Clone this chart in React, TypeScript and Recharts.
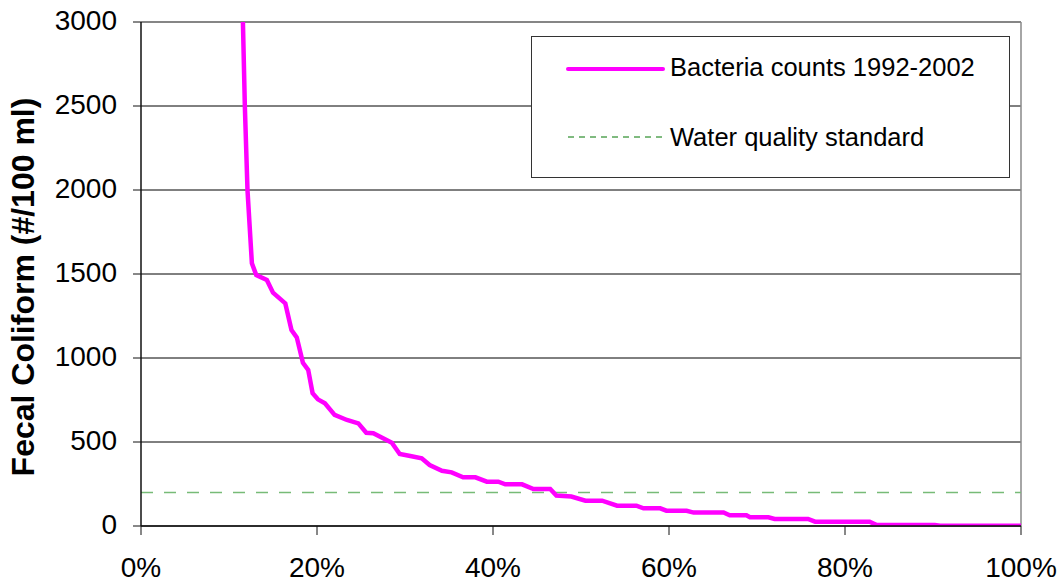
import React from 'react';
import {
  LineChart,
  Line,
  XAxis,
  YAxis,
  CartesianGrid,
  ReferenceLine,
  Label,
} from 'recharts';

// Exceedance percentile (%) of each sorted sample
const percentiles: number[] = [
  11.45, 11.8, 12.1, 12.6, 13.1, 14.3, 15.0, 16.4, 17.1, 17.7, 18.4, 19.0, 19.5,
  20.1, 20.9, 22.0, 23.4, 24.7, 25.6, 26.4, 27.9, 28.5, 29.4, 30.6, 31.9, 32.8,
  34.2, 35.3, 36.6, 38.0, 39.3, 40.6, 41.4, 43.3, 44.6, 46.5, 47.2, 48.9, 50.5,
  52.4, 54.1, 56.3, 57.1, 59.0, 59.7, 62.0, 62.8, 66.2, 66.9, 68.8, 69.2, 71.3,
  72.0, 75.8, 76.6, 82.8, 83.6, 90.2, 90.8, 100,
];

// Fecal coliform counts (#/100 ml)
const counts: number[] = [
  3300, 2500, 2000, 1564, 1494, 1464, 1389, 1325, 1167, 1123, 972, 929, 790,
  754, 730, 661, 631, 611, 555, 552, 512, 496, 429, 417, 403, 363,
  329, 319, 290, 290, 264, 264, 248, 248, 220, 220, 181, 175, 151,
  151, 121, 121, 105, 105, 91, 91, 80, 80, 64, 64, 52, 52,
  42, 42, 26, 26, 6, 6, 1, 1,
];

const waterQualityStandard = 200;

const xTicks: number[] = [0, 20, 40, 60, 80, 100];
const yTicks: number[] = [0, 500, 1000, 1500, 2000, 2500, 3000];

const seriesName = 'Bacteria counts 1992-2002';
const standardName = 'Water quality standard';
const yAxisTitle = 'Fecal Coliform (#/100 ml)';

const data = percentiles.map((p, i) => ({ p, v: counts[i] }));

const FONT = "Arial, 'Liberation Sans', sans-serif";

const CustomLegend = () => (
  <svg width={479} height={142} style={{ display: 'block' }}>
    <rect x={0.5} y={0.5} width={478} height={141} fill="#fff" stroke="#333" strokeWidth={1} />
    <line x1={37} y1={33} x2={132} y2={33} stroke="#ff00ff" strokeWidth={4} strokeLinecap="round" />
    <text x={139} y={31} fontSize={25.5} fontFamily={FONT} dominantBaseline="central" fill="#000">
      {seriesName}
    </text>
    <line x1={37} y1={101} x2={132} y2={101} stroke="#007700" strokeWidth={1} strokeDasharray="6 5" />
    <text x={139} y={100.5} fontSize={25.5} fontFamily={FONT} dominantBaseline="central" fill="#000">
      {standardName}
    </text>
  </svg>
);

export default function App() {
  return (
    <div style={{ position: 'absolute', left: 0, top: 0, width: 1061, height: 583, background: '#fff' }}>
      <LineChart
        width={1061}
        height={583}
        data={data}
        margin={{ top: 22, right: 40, left: 0, bottom: 0 }}
      >
        <CartesianGrid horizontal vertical={false} stroke="#000" strokeWidth={1} />
        <XAxis
          dataKey="p"
          type="number"
          domain={[0, 100]}
          ticks={xTicks}
          tickFormatter={(v: number) => `${v}%`}
          height={57}
          tickSize={9}
          tickMargin={22}
          interval={0}
          axisLine={{ stroke: '#111', strokeWidth: 1.5 }}
          tickLine={{ stroke: '#111', strokeWidth: 1 }}
          tick={{ fontSize: 28, fontFamily: FONT, fill: '#000' }}
        />
        <YAxis
          type="number"
          domain={[0, 3000]}
          ticks={yTicks}
          allowDataOverflow
          width={141}
          tickSize={8}
          tickMargin={16}
          interval={0}
          axisLine={{ stroke: '#111', strokeWidth: 1.5 }}
          tickLine={{ stroke: '#111', strokeWidth: 1 }}
          tick={{ fontSize: 28, fontFamily: FONT, fill: '#000', dy: -2 }}
        >
          <Label
            content={() => (
              <text
                x={23}
                y={287}
                transform="rotate(-90 23 287)"
                textAnchor="middle"
                dominantBaseline="central"
                fontSize={32}
                fontWeight="bold"
                fontFamily={FONT}
                fill="#000"
              >
                {yAxisTitle}
              </text>
            )}
          />
        </YAxis>
        <ReferenceLine y={3000} stroke="#888" strokeWidth={1.5} />
        <ReferenceLine x={100} stroke="#888" strokeWidth={1.5} />
        <ReferenceLine
          y={waterQualityStandard}
          stroke="#77bb77"
          strokeWidth={1.5}
          strokeDasharray="12 11"
        />
        <Line
          type="linear"
          dataKey="v"
          stroke="#ff00ff"
          strokeWidth={4.5}
          dot={false}
          activeDot={false}
          isAnimationActive={false}
          name={seriesName}
        />
      </LineChart>
      <div style={{ position: 'absolute', left: 531, top: 36, width: 479, height: 142 }}>
        <CustomLegend />
      </div>
    </div>
  );
}
